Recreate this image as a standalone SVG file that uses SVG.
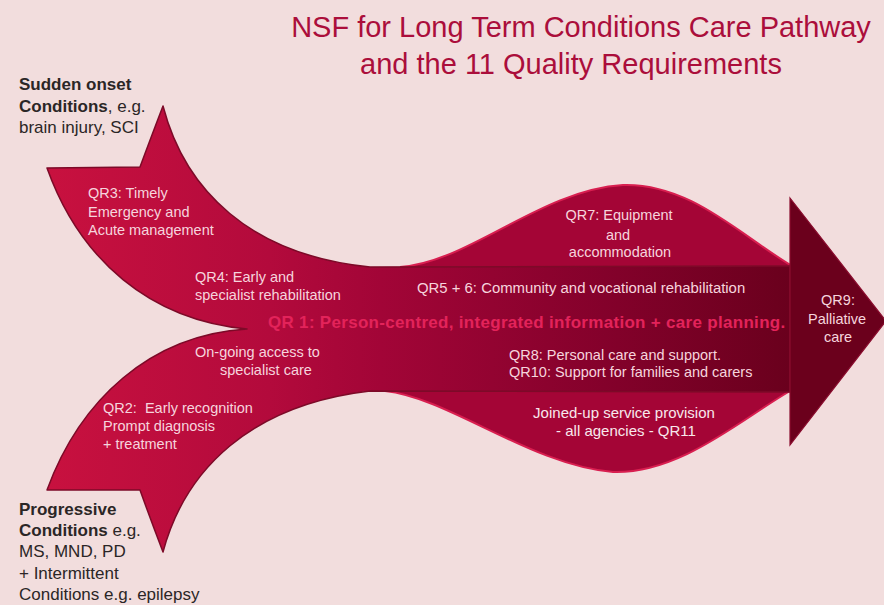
<svg xmlns="http://www.w3.org/2000/svg" width="884" height="605" viewBox="0 0 884 605">
<defs>
<linearGradient id="mainGrad" gradientUnits="userSpaceOnUse" x1="47" y1="0" x2="790" y2="0">
<stop offset="0" stop-color="#c8113f"/>
<stop offset="0.3" stop-color="#b30a3c"/>
<stop offset="0.45" stop-color="#a20537"/>
<stop offset="0.75" stop-color="#84012b"/>
<stop offset="1" stop-color="#6a001d"/>
</linearGradient>
<style>
.lt{font-family:"Liberation Sans",Arial,sans-serif;font-size:14.5px;fill:#f6d4dd}
.dk{font-family:"Liberation Sans",Arial,sans-serif;font-size:17px;fill:#2b2626}
.b{font-weight:bold}
.title{font-family:"Liberation Sans",Arial,sans-serif;font-size:29px;fill:#ab0e3b;text-anchor:middle}
.mid{text-anchor:middle}
</style>
</defs>
<rect width="884" height="605" fill="#f2dddd"/>

<g id="shapes">
<path d="M400,267 C470,262 540,190 623,185 C690,183 740,235 792,266 Z" fill="#a40536"/>
<path d="M400,267 C470,262 540,190 623,185 C690,183 740,235 792,266" fill="none" stroke="#d81f50" stroke-width="2"/>
<path d="M385,391 C450,398 530,465 613,472 C680,474 740,420 790,391 Z" fill="#a40536"/>
<path d="M385,391 C450,398 530,465 613,472 C680,474 740,420 790,391" fill="none" stroke="#d81f50" stroke-width="2"/>
<path d="M163,106 C185,190 250,255 370,267 L790,266 L790,392 L370,391 C250,405 185,470 163,552 Q150,518 140,490 L47,490 C80,400 150,335 247,329 C150,320 80,260 47,168 L140,167 Q150,140 163,106 Z" fill="url(#mainGrad)" stroke="#7d0a28" stroke-width="1.5" stroke-linejoin="round"/>
<path d="M790,198 L886,321 L790,445 Z" fill="#6b001c" stroke="#8a0c2e" stroke-width="1.2"/>
</g>

<g id="title">
<text class="title" x="581" y="37">NSF for Long Term Conditions Care Pathway</text>
<text class="title" x="571" y="74">and the 11 Quality Requirements</text>
</g>

<g id="sudden-onset">
<text class="dk b" x="19" y="90">Sudden onset</text>
<text class="dk" x="19" y="112"><tspan class="b">Conditions</tspan>, e.g.</text>
<text class="dk" x="19" y="133">brain injury, SCI</text>
</g>

<g id="progressive">
<text class="dk b" x="19" y="515">Progressive</text>
<text class="dk" x="19" y="536"><tspan class="b">Conditions</tspan> e.g.</text>
<text class="dk" x="19" y="557">MS, MND, PD</text>
<text class="dk" x="19" y="579">+ Intermittent</text>
<text class="dk" x="19" y="600">Conditions e.g. epilepsy</text>
</g>

<g id="qr3">
<text class="lt" x="88" y="198">QR3: Timely</text>
<text class="lt" x="88" y="217">Emergency and</text>
<text class="lt" x="88" y="235">Acute management</text>
</g>

<g id="qr4">
<text class="lt" x="195" y="282">QR4: Early and</text>
<text class="lt" x="195" y="300">specialist rehabilitation</text>
</g>

<g id="qr1">
<text x="268" y="328" font-family="Liberation Sans, Arial, sans-serif" font-size="17" font-weight="bold" letter-spacing="0.3" fill="#e3235a">QR 1: Person-centred, integrated information + care planning.</text>
</g>

<g id="ongoing">
<text class="lt" x="195" y="357">On-going access to</text>
<text class="lt" x="220" y="375">specialist care</text>
</g>

<g id="qr2">
<text class="lt" x="103" y="413" xml:space="preserve">QR2:  Early recognition</text>
<text class="lt" x="103" y="431">Prompt diagnosis</text>
<text class="lt" x="103" y="449">+ treatment</text>
</g>

<g id="qr7">
<text class="lt mid" x="619" y="220">QR7: Equipment</text>
<text class="lt mid" x="618" y="240">and</text>
<text class="lt mid" x="620" y="257">accommodation</text>
</g>

<g id="qr56">
<text class="lt" x="417" y="293" style="font-size:14.9px">QR5 + 6: Community and vocational rehabilitation</text>
</g>

<g id="qr8-10">
<text class="lt" x="509" y="360">QR8: Personal care and support.</text>
<text class="lt" x="509" y="377">QR10: Support for families and carers</text>
</g>

<g id="qr11">
<text class="mid" x="624" y="418" font-family="Liberation Sans, Arial, sans-serif" font-size="15" fill="#f8e8ec">Joined-up service provision</text>
<text class="mid" x="626" y="436" font-family="Liberation Sans, Arial, sans-serif" font-size="15" fill="#f8e8ec">- all agencies - QR11</text>
</g>

<g id="qr9">
<text class="lt mid" x="838" y="305">QR9:</text>
<text class="lt mid" x="837" y="324">Palliative</text>
<text class="lt mid" x="838" y="342">care</text>
</g>
</svg>
